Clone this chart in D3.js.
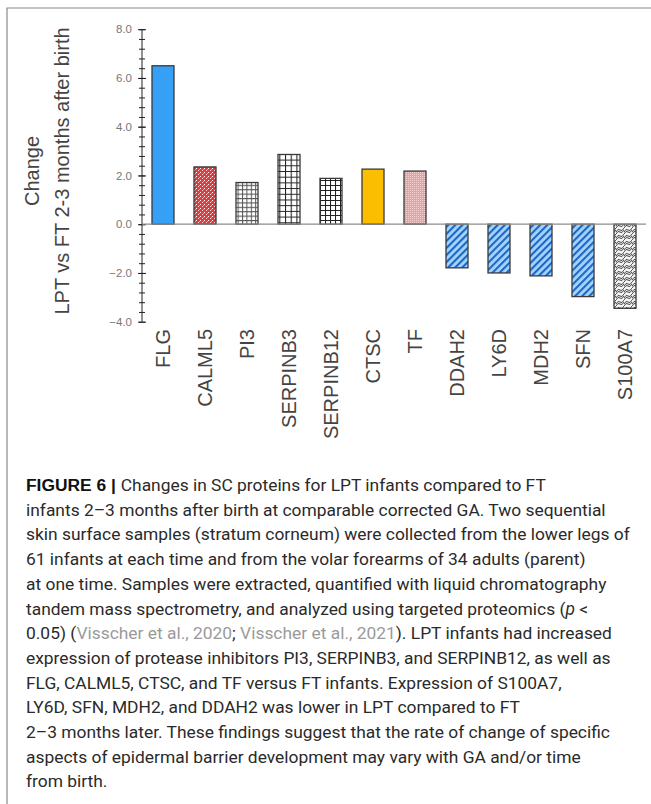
<!DOCTYPE html>
<html>
<head>
<meta charset="utf-8">
<script src="https://cdn.jsdelivr.net/npm/d3@7/dist/d3.min.js"></script>
<style>
  html, body { margin: 0; padding: 0; background: #fff; }
  svg { display: block; }
</style>
</head>
<body>
<svg id="fig" width="651" height="804"></svg>
<script>
// Proteins and their change (LPT vs FT, 2-3 months after birth)
const proteins = ["FLG", "CALML5", "PI3", "SERPINB3", "SERPINB12", "CTSC", "TF",
                  "DDAH2", "LY6D", "MDH2", "SFN", "S100A7"];
const changes = [6.5, 2.35, 1.71, 2.86, 1.88, 2.26, 2.18,
                 -1.79, -2.0, -2.12, -2.97, -3.45];
// Fill style keyed by protein
const fills = ["solid-blue", "red-dots", "grid-fine", "grid-wide", "grid-mid", "solid-gold", "pink-check",
               "stripe-blue", "stripe-blue", "stripe-blue", "stripe-blue", "waves"];
const majorTicks = [-4, -2, 0, 2, 4, 6, 8];
const yDomain = [-4, 8];
const titleLines = ["Change", "LPT vs FT 2-3 months after birth"];

// Caption, one entry per printed line; segments are [text, style]
const captionLines = [
  [["FIGURE 6 | ", "b"], ["Changes in SC proteins for LPT infants compared to FT", ""]],
  [["infants 2\u20133 months after birth at comparable corrected GA. Two sequential", ""]],
  [["skin surface samples (stratum corneum) were collected from the lower legs of", ""]],
  [["61 infants at each time and from the volar forearms of 34 adults (parent)", ""]],
  [["at one time. Samples were extracted, quantified with liquid chromatography", ""]],
  [["tandem mass spectrometry, and analyzed using targeted proteomics (", ""], ["p", "i"], [" <", ""]],
  [["0.05) (", ""], ["Visscher et al., 2020", "ref"], ["; ", ""], ["Visscher et al., 2021", "ref"], ["). LPT infants had increased", ""]],
  [["expression of protease inhibitors PI3, SERPINB3, and SERPINB12, as well as", ""]],
  [["FLG, CALML5, CTSC, and TF versus FT infants. Expression of S100A7,", ""]],
  [["LY6D, SFN, MDH2, and DDAH2 was lower in LPT compared to FT", ""]],
  [["2\u20133 months later. These findings suggest that the rate of change of specific", ""]],
  [["aspects of epidermal barrier development may vary with GA and/or time", ""]],
  [["from birth.", ""]]
];

const svg = d3.select("#fig");
const defs = svg.append("defs");

// ---- fill patterns ----
function pat(id, w, h) {
  return defs.append("pattern").attr("id", id).attr("patternUnits", "userSpaceOnUse")
    .attr("width", w).attr("height", h);
}
// red with white speckles
{
  const p = pat("red-dots", 4, 4);
  p.append("rect").attr("width", 4).attr("height", 4).attr("fill", "#e23a3f");
  p.append("rect").attr("x", 0).attr("y", 0).attr("width", 1).attr("height", 1).attr("fill", "#fff");
  p.append("rect").attr("x", 2).attr("y", 2).attr("width", 1).attr("height", 1).attr("fill", "#fcd6d6");
  p.append("rect").attr("x", 3).attr("y", 1).attr("width", 1).attr("height", 1).attr("fill", "#f59a9a");
}
// grids of differing cell size
function grid(id, s, col, sw) {
  const p = pat(id, s, s);
  p.append("rect").attr("width", s).attr("height", s).attr("fill", "#fff");
  p.append("path").attr("d", `M0,0.5H${s}M0.5,0V${s}`).attr("stroke", col).attr("stroke-width", sw).attr("fill", "none");
}
grid("grid-fine", 4.4, "#555", 1);
grid("grid-wide", 5.7, "#222", 1.1);
grid("grid-mid", 5.0, "#222", 1.1);
// pink checker
{
  const p = pat("pink-check", 2, 2);
  p.append("rect").attr("width", 2).attr("height", 2).attr("fill", "#f49c9c");
  p.append("rect").attr("width", 1).attr("height", 1).attr("fill", "#fbd2d2");
}
// blue diagonal stripes
{
  const p = pat("stripe-blue", 5, 5).attr("patternTransform", "rotate(45)");
  p.append("rect").attr("width", 5).attr("height", 5).attr("fill", "#a3d5fb");
  p.append("rect").attr("width", 2.1).attr("height", 5).attr("fill", "#1f66c6");
}
// scalloped waves
{
  const p = pat("waves", 8, 6);
  p.append("rect").attr("width", 8).attr("height", 6).attr("fill", "#f4f4f4");
  p.append("path").attr("d", "M0,4 Q2,0 4,2 T8,0 M0,6 Q2,2 4,4 T8,2")
    .attr("stroke", "#333").attr("stroke-width", 0.9).attr("fill", "none");
}
const fillColor = k => k === "solid-blue" ? "#35a0f5" : k === "solid-gold" ? "#fbbe00" : `url(#${k})`;

// ---- frame ----
svg.append("path").attr("d", "M7,804V8H651").attr("fill", "none").attr("stroke", "#8a8a8a").attr("stroke-width", 1.2);

// ---- scales ----
const x = d3.scaleBand().domain(proteins).range([142, 646]).paddingInner(0.476).paddingOuter(0.238);
const y = d3.scaleLinear().domain(yDomain).range([321.7, 29.2]);

// ---- y axis ----
const minorTicks = d3.range(yDomain[0], yDomain[1] + 0.001, 0.4).map(v => +v.toFixed(2));
const gy = svg.append("g").attr("transform", "translate(142,0)");
gy.append("g")
  .call(d3.axisLeft(y).tickValues(minorTicks).tickSize(3).tickFormat(""))
  .call(g => g.select(".domain").remove())
  .call(g => g.selectAll("line").attr("x2", 3).attr("x1", -3).attr("stroke", "#222"));
gy.append("g")
  .call(d3.axisLeft(y).tickValues(majorTicks).tickSize(4).tickPadding(6).tickFormat(d3.format(".1f")))
  .call(g => g.select(".domain").attr("stroke", "#222").attr("d", `M0,${y(yDomain[0])}V${y(yDomain[1])}`))
  .call(g => g.selectAll("line").attr("x1", -4).attr("x2", 4).attr("stroke", "#222"))
  .call(g => g.selectAll("text").attr("font-family", "Liberation Sans, Arial, sans-serif")
      .attr("font-size", 11.5).attr("fill", "#777"));

// ---- bars ----
svg.append("g").selectAll("rect").data(proteins).join("rect")
  .attr("x", d => x(d))
  .attr("width", x.bandwidth())
  .attr("y", (d, i) => y(Math.max(0, changes[i])))
  .attr("height", (d, i) => Math.abs(y(changes[i]) - y(0)))
  .attr("fill", (d, i) => fillColor(fills[i]))
  .attr("stroke", "#3a3a3a").attr("stroke-width", 1.3);

// zero line
svg.append("line").attr("x1", 142).attr("x2", 646).attr("y1", y(0)).attr("y2", y(0))
  .attr("stroke", "#8c8c8c").attr("stroke-width", 1.2);

// ---- x labels ----
svg.append("g").selectAll("text").data(proteins).join("text")
  .attr("transform", d => `translate(${x(d) + x.bandwidth() / 2 + 7},329) rotate(-90)`)
  .attr("text-anchor", "end")
  .attr("font-family", "Liberation Sans, Arial, sans-serif")
  .attr("font-size", 20).attr("fill", "#444")
  .text(d => d);

// ---- y title ----
svg.append("g").selectAll("text").data(titleLines).join("text")
  .attr("transform", (d, i) => `translate(${39 + i * 30},171) rotate(-90)`)
  .attr("text-anchor", "middle")
  .attr("font-family", "Liberation Sans, Arial, sans-serif")
  .attr("font-size", 20).attr("fill", "#444")
  .text(d => d);

// ---- caption ----
const cap = svg.append("g").attr("font-family", "Roboto, Liberation Sans, sans-serif")
  .attr("font-size", 17.4).attr("font-weight", 400).attr("fill", "#2a2a2a");
captionLines.forEach((segs, i) => {
  const t = cap.append("text").attr("x", 26).attr("y", 491 + i * 24.7);
  segs.forEach(([s, st]) => {
    const ts = t.append("tspan").text(s);
    if (st === "b") ts.attr("font-weight", 700).attr("font-family", "Liberation Sans, Arial, sans-serif").attr("fill", "#111");
    if (st === "i") ts.attr("font-style", "italic");
    if (st === "ref") ts.attr("fill", "#9a9a9a");
  });
});
</script>
</body>
</html>
